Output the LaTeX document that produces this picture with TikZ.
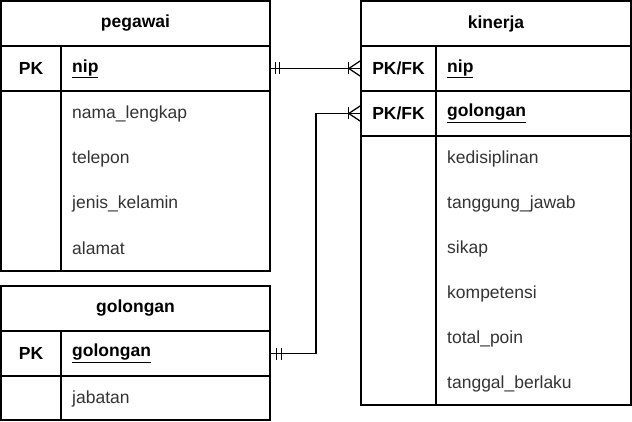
\documentclass[tikz,border=0pt]{standalone}
\usepackage{fontspec}
\setmainfont{Liberation Sans}
\usetikzlibrary{calc}

\tikzset{
  tabletitle/.style={font=\fontsize{17.5}{21}\selectfont\bfseries},
  keycell/.style={font=\fontsize{17.5}{21}\selectfont\bfseries, inner sep=0pt, minimum width=60pt, minimum height=45pt},
  fieldcell/.style={anchor=west, text width=187pt, align=left, inner xsep=11pt, inner ysep=0pt, minimum height=45pt, font=\fontsize{17.5}{21}\selectfont, text=black!80},
  keyfield/.style={fieldcell, font=\fontsize{17.5}{21}\selectfont\bfseries, text=black},
  tableframe/.style={line width=1.3pt},
  relation/.style={line width=1.3pt},
}

\begin{document}
\begin{tikzpicture}[x=1pt, y=-1pt]
        \useasboundingbox (0,0) rectangle (632,422);

        % Draw the table pegawai
        \draw[tableframe] (1,1) rectangle (270,271);
        \draw[tableframe] (1,46) -- (270,46);
        \draw[tableframe] (1,91) -- (270,91);
        \draw[tableframe] (61,46) -- (61,271);

        % Draw the table golongan
        \draw[tableframe] (1,286) rectangle (270,420);
        \draw[tableframe] (1,331) -- (270,331);
        \draw[tableframe] (1,376) -- (270,376);
        \draw[tableframe] (61,331) -- (61,420);

        % Draw the table kinerja
        \draw[tableframe] (361,1) rectangle (631,405);
        \draw[tableframe] (361,46) -- (631,46);
        \draw[tableframe] (361,91) -- (631,91);
        \draw[tableframe] (361,136) -- (631,136);
        \draw[tableframe] (436,46) -- (436,405);

        % Label the table pegawai
        \node[tabletitle] (peg) at (135.5,23.5) {pegawai};
        \node[keycell] (pegpk) at (31,68.5) {PK};
        \node[keyfield] (pegnip) at (61,68.5) {\underline{nip}};
        \node[fieldcell] (pegnama) at (61,113.5) {nama\_lengkap};
        \node[fieldcell] (pegtelp) at (61,158.5) {telepon};
        \node[fieldcell] (pegjk) at (61,203.5) {jenis\_kelamin};
        \node[fieldcell] (pegalamat) at (61,248.5) {alamat};

        % Label the table golongan
        \node[tabletitle] (gol) at (135.5,308.5) {golongan};
        \node[keycell] (golpk) at (31,353.5) {PK};
        \node[keyfield] (golgol) at (61,353.5) {\underline{golongan}};
        \node[fieldcell] (goljab) at (61,398.5) {jabatan};

        % Label the table kinerja
        \node[tabletitle] (kin) at (496,23.5) {kinerja};
        \node[keycell, minimum width=75pt] (kinpk1) at (398.5,68.5) {PK/FK};
        \node[keycell, minimum width=75pt] (kinpk2) at (398.5,113.5) {PK/FK};
        \node[keyfield, text width=173pt] (kinnip) at (436,68.5) {\underline{nip}};
        \node[keyfield, text width=173pt] (kingol) at (436,113.5) {\underline{golongan}};
        \node[fieldcell, text width=173pt] (kindisiplin) at (436,158.5) {kedisiplinan};
        \node[fieldcell, text width=173pt] (kintj) at (436,203.5) {tanggung\_jawab};
        \node[fieldcell, text width=173pt] (kinsikap) at (436,248.5) {sikap};
        \node[fieldcell, text width=173pt] (kinkomp) at (436,293.5) {kompetensi};
        \node[fieldcell, text width=173pt] (kinpoin) at (436,338.5) {total\_poin};
        \node[fieldcell, text width=173pt] (kintgl) at (436,383.5) {tanggal\_berlaku};

        % Relation pegawai -- kinerja
        \draw[relation] (pegnip.east) -- (kinpk1.west);
        \draw[relation] ($(pegnip.east)+(5,-6)$) -- ++(0,12);
        \draw[relation] ($(pegnip.east)+(9,-6)$) -- ++(0,12);
        \draw[relation] ($(kinpk1.west)+(-12,-6)$) -- ++(0,12);
        \draw[relation] ($(kinpk1.west)+(-12,0)$) -- ($(kinpk1.west)+(0,-8)$);
        \draw[relation] ($(kinpk1.west)+(-12,0)$) -- ($(kinpk1.west)+(0,8)$);

        % Relation golongan -- kinerja
        \coordinate (bend) at (316,353.5);
        \draw[relation] (golgol.east) -- (bend) |- (kinpk2.west);
        \draw[relation] ($(golgol.east)+(6,-6)$) -- ++(0,12);
        \draw[relation] ($(golgol.east)+(11,-6)$) -- ++(0,12);
        \draw[relation] ($(kinpk2.west)+(-12,-6)$) -- ++(0,12);
        \draw[relation] ($(kinpk2.west)+(-12,0)$) -- ($(kinpk2.west)+(0,-8)$);
        \draw[relation] ($(kinpk2.west)+(-12,0)$) -- ($(kinpk2.west)+(0,8)$);
    \end{tikzpicture}
\end{document}
